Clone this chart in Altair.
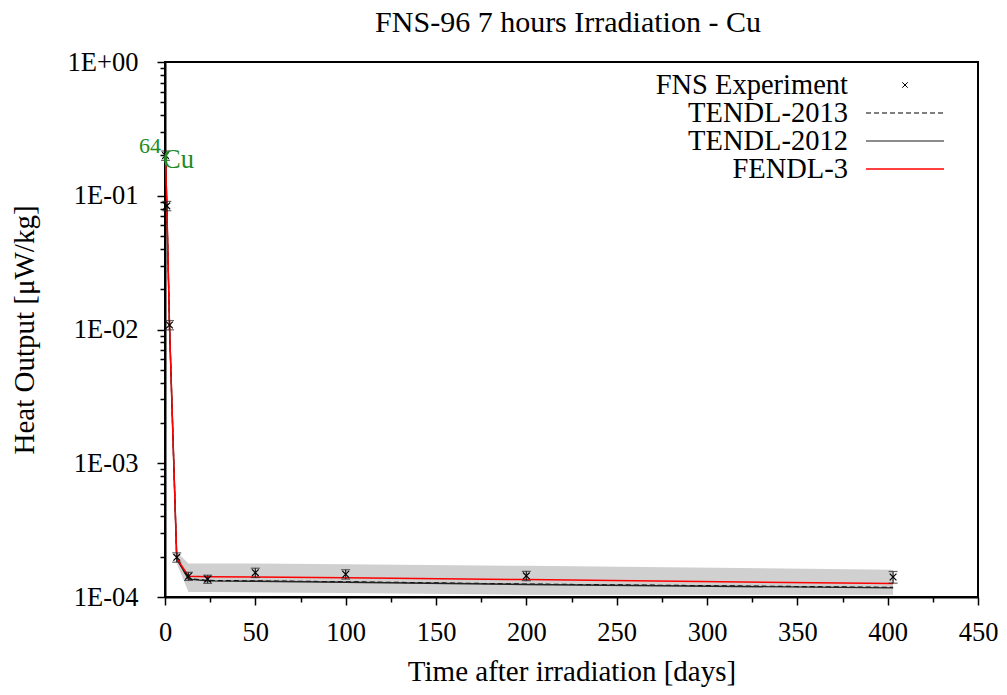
import altair as alt
import pandas as pd

# ---- data ----
times = [0.3, 1.0, 2.5, 6.5, 13, 23.6, 50, 100, 200, 403]
exp_vals = [0.20, 0.084, 0.0108, 1.98e-4, 1.43e-4, 1.36e-4, 1.52e-4, 1.48e-4, 1.44e-4, 1.41e-4]
exp_rel_err = [0.08, 0.08, 0.08, 0.08, 0.07, 0.07, 0.08, 0.08, 0.08, 0.10]

fendl3 = [0.20, 0.085, 0.0106, 1.95e-4, 1.43e-4, 1.42e-4, 1.41e-4, 1.39e-4, 1.35e-4, 1.26e-4]
tendl2012 = [0.20, 0.085, 0.0106, 1.93e-4, 1.36e-4, 1.32e-4, 1.31e-4, 1.29e-4, 1.24e-4, 1.17e-4]
tendl2013 = [0.20, 0.085, 0.0106, 1.93e-4, 1.37e-4, 1.33e-4, 1.32e-4, 1.30e-4, 1.25e-4, 1.18e-4]

band_lo = [0.18, 0.077, 0.0096, 1.79e-4, 1.09e-4, 1.09e-4, 1.08e-4, 1.07e-4, 1.04e-4, 1.04e-4]
band_hi = [0.22, 0.093, 0.0116, 2.17e-4, 1.78e-4, 1.78e-4, 1.78e-4, 1.76e-4, 1.71e-4, 1.60e-4]

x_major = [0, 50, 100, 150, 200, 250, 300, 350, 400, 450]
x_minor = [25, 75, 125, 175, 225, 275, 325, 375, 425]
y_major = [1e-4, 1e-3, 1e-2, 1e-1, 1.0]
y_minor = [k * 10.0 ** e for e in (-4, -3, -2, -1) for k in range(2, 10)]

chart_title = ["FNS-96 7 hours Irradiation - Cu"]
legend_labels = ["FNS Experiment", "TENDL-2013", "TENDL-2012", "FENDL-3"]
iso_label_x = [0]
iso_label_y = [0.185]

FONT = "Liberation Serif"

df = pd.DataFrame({
    "t": times,
    "exp": exp_vals,
    "lo": [v * (1 - e) for v, e in zip(exp_vals, exp_rel_err)],
    "hi": [v * (1 + e) for v, e in zip(exp_vals, exp_rel_err)],
    "fendl3": fendl3,
    "tendl2012": tendl2012,
    "tendl2013": tendl2013,
    "blo": band_lo,
    "bhi": band_hi,
})

xs = alt.Scale(domain=[0, 450], nice=False, zero=False)
ys = alt.Scale(type="log", domain=[1e-4, 1.0], nice=False)

base = alt.Chart(df)

def X(field="t", axis=None):
    return alt.X(f"{field}:Q", scale=xs, axis=axis)

def Y(field, axis=None):
    return alt.Y(f"{field}:Q", scale=ys, axis=axis)

x_axis_main = alt.Axis(
    values=x_major, orient="bottom", title="Time after irradiation [days]",
    tickSize=8, tickWidth=1.5, tickColor="black", domainColor="black", domainWidth=2,
    labelFontSize=26.5, labelFont=FONT, labelColor="black", labelPadding=14,
    titleFontSize=29, titleFont=FONT, titleFontWeight="normal", titleColor="black",
    titleBaseline="alphabetic", titleY=83, grid=False, labelFlush=False,
)
y_axis_main = alt.Axis(
    values=y_major, orient="left", title="Heat Output [μW/kg]",
    labelExpr="datum.value >= 1 ? '1E+00' : '1E-0' + format(round(-log(datum.value)/LN10), 'd')",
    tickSize=8, tickWidth=1.5, tickColor="black", domainColor="black", domainWidth=2,
    labelFontSize=26.5, labelFont=FONT, labelColor="black", labelPadding=19,
    titleFontSize=29, titleFont=FONT, titleFontWeight="normal", titleColor="black",
    titleBaseline="alphabetic", titleX=-132, titleY=267.5, titleAngle=-90,
    grid=False, labelFlush=False,
)
x_axis_minor = alt.Axis(values=x_minor, orient="bottom", labels=False, title=None,
                        tickSize=5, tickWidth=1.5, tickColor="black", domain=False, grid=False)
y_axis_minor = alt.Axis(values=y_minor, orient="left", labels=False, title=None,
                        tickSize=5, tickWidth=1.5, tickColor="black", domain=False, grid=False)

band = base.mark_area(color="#d0d0d0", opacity=1).encode(
    x=X("t", x_axis_main), y=Y("blo", y_axis_main), y2="bhi:Q")

minor = base.mark_point(opacity=0).encode(x=X("t", x_axis_minor), y=Y("exp", y_axis_minor))

l2013 = base.mark_line(color="black", strokeWidth=1.2, strokeDash=[5, 3]).encode(x=X(), y=Y("tendl2013"))
l2012 = base.mark_line(color="#222222", strokeWidth=1.4).encode(x=X(), y=Y("tendl2012"))
lf3 = base.mark_line(color="red", strokeWidth=1.5).encode(x=X(), y=Y("fendl3"))

ebar = base.mark_rule(color="#222222", strokeWidth=1.2).encode(x=X(), y=Y("lo"), y2="hi:Q")
cap_lo = base.mark_tick(orient="horizontal", color="#222222", size=9, thickness=1.2).encode(x=X(), y=Y("lo"))
cap_hi = base.mark_tick(orient="horizontal", color="#222222", size=9, thickness=1.2).encode(x=X(), y=Y("hi"))
CROSS = "M-1,-1L1,1M-1,1L1,-1"
pts = base.mark_point(shape=CROSS, filled=False, color="black", size=45, strokeWidth=1.2, opacity=1).encode(
    x=X(), y=Y("exp"))

iso_df = pd.DataFrame({"x": iso_label_x, "y": iso_label_y})
iso_cu = alt.Chart(iso_df).mark_text(text="Cu", align="left", baseline="middle", dx=-2,
                                     font=FONT, fontSize=26.5, color="#228B22").encode(
    x=alt.X("x:Q", scale=xs, axis=None), y=alt.Y("y:Q", scale=ys, axis=None))
iso_64 = alt.Chart(iso_df).mark_text(text="64", align="right", baseline="middle", dx=-4, dy=-14,
                                     font=FONT, fontSize=22, color="#228B22").encode(
    x=alt.X("x:Q", scale=xs, axis=None), y=alt.Y("y:Q", scale=ys, axis=None))

# ---- chart title as a text mark ----
title_layer = alt.Chart(pd.DataFrame({"ttl": chart_title})).mark_text(
    align="center", baseline="alphabetic", font=FONT, fontSize=30, color="black"
).encode(x=alt.value(403), y=alt.value(-30), text="ttl:N")

# ---- manual legend (gnuplot style: label left, sample right) ----
leg_layers = []
row_y = [23, 51, 79, 107]
for lab, yy in zip(legend_labels, row_y):
    leg_layers.append(
        alt.Chart(pd.DataFrame({"lab": [lab]})).mark_text(
            align="right", baseline="middle", font=FONT, fontSize=28.5, color="black"
        ).encode(x=alt.value(683), y=alt.value(yy), text="lab:N")
    )
one = pd.DataFrame({"k": [0]})
leg_layers.append(alt.Chart(one).mark_point(shape=CROSS, filled=False, color="black", size=30,
                                            strokeWidth=1, opacity=1).encode(
    x=alt.value(740), y=alt.value(row_y[0])))
leg_layers.append(alt.Chart(one).mark_rule(color="black", strokeWidth=1.2, strokeDash=[5, 3]).encode(
    x=alt.value(701), x2=alt.value(779), y=alt.value(row_y[1])))
leg_layers.append(alt.Chart(one).mark_rule(color="#666666", strokeWidth=1.5).encode(
    x=alt.value(701), x2=alt.value(779), y=alt.value(row_y[2])))
leg_layers.append(alt.Chart(one).mark_rule(color="red", strokeWidth=1.5).encode(
    x=alt.value(701), x2=alt.value(779), y=alt.value(row_y[3])))

chart = alt.layer(
    band, minor, l2013, l2012, lf3, ebar, cap_lo, cap_hi, pts, iso_cu, iso_64, title_layer, *leg_layers
).resolve_axis(x="independent", y="independent").properties(
    width=813, height=535,
    autosize="none",
    padding={"left": 157, "top": 54, "right": 21, "bottom": 90},
).configure_view(stroke="black", strokeWidth=2)

chart.save("out.html", embed_options={"renderer": "svg", "actions": False})
